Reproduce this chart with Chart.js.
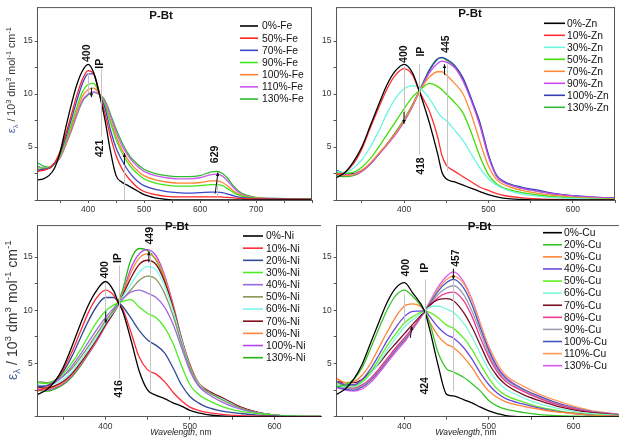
<!DOCTYPE html>
<html>
<head>
<meta charset="utf-8">
<script src="https://cdn.jsdelivr.net/npm/chart.js@4.4.1/dist/chart.umd.min.js"></script>
<style>
  html, body { margin: 0; padding: 0; background: #fff; }
  body { width: 619px; height: 443px; overflow: hidden; position: relative; }
  canvas { position: absolute; }
</style>
</head>
<body>
<canvas id="fe"></canvas>
<canvas id="zn"></canvas>
<canvas id="ni"></canvas>
<canvas id="cu"></canvas>
<script>
'use strict';

// ---- Fe titration ----
var feWl = [310, 320, 330, 340, 350, 360, 370, 380, 390, 400, 410, 421, 430, 440, 450, 460, 470, 480, 490, 500, 520, 540, 560, 580, 600, 620, 630, 640, 650, 660, 670, 680, 700, 740, 800];
var fe0   = [1.9, 2.0, 2.3, 3.0, 4.5, 6.8, 9.0, 10.9, 12.2, 12.8, 12.0, 9.8, 7.6, 4.6, 2.3, 1.7, 1.4, 1.1, 0.8, 0.5, 0.2, 0.05, 0, 0, 0, 0, 0, 0, 0, 0, 0, 0, 0, 0, 0];
var fe50  = [2.7, 2.8, 3.0, 3.5, 4.6, 6.2, 8.0, 9.9, 11.4, 12.2, 11.9, 9.9, 8.2, 6.0, 4.2, 3.0, 2.2, 1.6, 1.1, 0.8, 0.5, 0.35, 0.3, 0.3, 0.3, 0.3, 0.3, 0.28, 0.25, 0.2, 0.15, 0.12, 0.1, 0.08, 0.05];
var fe70  = [2.8, 2.9, 3.0, 3.4, 4.4, 5.9, 7.6, 9.4, 11.0, 11.9, 11.9, 9.9, 8.7, 6.6, 4.9, 3.8, 2.9, 2.2, 1.7, 1.35, 1.0, 0.8, 0.7, 0.65, 0.7, 0.75, 0.75, 0.7, 0.55, 0.4, 0.28, 0.2, 0.12, 0.1, 0.08];
var fe90  = [3.1, 3.0, 3.0, 3.4, 4.2, 5.6, 7.1, 8.8, 10.2, 10.9, 11.0, 9.9, 9.0, 7.3, 5.7, 4.5, 3.6, 2.9, 2.4, 2.0, 1.6, 1.4, 1.3, 1.3, 1.35, 1.45, 1.45, 1.35, 1.05, 0.7, 0.45, 0.3, 0.18, 0.12, 0.1];
var fe100 = [2.9, 2.9, 3.0, 3.4, 4.1, 5.4, 6.8, 8.4, 9.8, 10.4, 10.55, 9.9, 9.1, 7.5, 6.0, 4.8, 3.9, 3.2, 2.7, 2.3, 1.9, 1.7, 1.6, 1.6, 1.65, 1.8, 1.8, 1.65, 1.3, 0.85, 0.55, 0.35, 0.2, 0.12, 0.1];
var fe110 = [3.2, 3.0, 3.0, 3.4, 4.0, 5.2, 6.6, 8.1, 9.4, 10.0, 10.2, 9.9, 9.3, 7.9, 6.4, 5.2, 4.3, 3.6, 3.1, 2.7, 2.3, 2.1, 2.0, 2.0, 2.1, 2.4, 2.45, 2.25, 1.75, 1.15, 0.7, 0.42, 0.22, 0.13, 0.1];
var fe130 = [3.5, 3.2, 3.1, 3.5, 4.0, 5.2, 6.5, 8.0, 9.3, 9.9, 10.15, 9.95, 9.4, 8.1, 6.7, 5.5, 4.5, 3.8, 3.3, 2.9, 2.5, 2.3, 2.2, 2.2, 2.3, 2.65, 2.7, 2.5, 2.0, 1.3, 0.8, 0.5, 0.25, 0.15, 0.12];
var feLabels = ['0%-Fe', '50%-Fe', '70%-Fe', '90%-Fe', '100%-Fe', '110%-Fe', '130%-Fe'];

// ---- Zn titration ----
var znWl = [320, 330, 340, 350, 360, 370, 380, 390, 400, 410, 418, 425, 430, 440, 445, 450, 460, 470, 480, 490, 500, 510, 520, 540, 560, 580, 600, 625, 650];
var zn0   = [2.1, 2.6, 3.6, 5.0, 7.0, 9.0, 10.9, 12.2, 12.8, 12.0, 10.3, 8.6, 7.3, 4.3, 2.6, 2.0, 1.7, 1.4, 1.1, 0.8, 0.5, 0.3, 0.15, 0.05, 0, 0, 0, 0, 0];
var zn10  = [2.4, 2.6, 3.4, 4.8, 6.8, 8.7, 10.5, 11.8, 12.4, 11.8, 10.3, 9.2, 8.4, 5.9, 4.2, 3.3, 2.7, 2.2, 1.7, 1.2, 0.9, 0.6, 0.4, 0.2, 0.1, 0.05, 0.03, 0, 0];
var zn30  = [2.7, 2.6, 3.0, 3.8, 5.0, 6.5, 8.2, 9.6, 10.5, 10.8, 10.6, 10.1, 9.6, 8.3, 7.8, 7.5, 6.6, 5.6, 4.3, 3.0, 2.0, 1.4, 1.0, 0.55, 0.35, 0.22, 0.14, 0.08, 0.05];
var zn50  = [2.6, 2.5, 2.6, 3.1, 3.9, 5.0, 6.2, 7.4, 8.6, 9.7, 10.3, 10.8, 11.0, 10.7, 10.4, 10.0, 9.2, 8.2, 6.3, 4.1, 2.4, 1.5, 1.1, 0.7, 0.45, 0.3, 0.2, 0.12, 0.08];
var zn70  = [2.5, 2.3, 2.4, 2.8, 3.5, 4.4, 5.3, 6.3, 7.5, 8.9, 10.2, 11.1, 11.6, 12.1, 12.1, 11.8, 11.0, 10.0, 8.0, 5.5, 3.2, 1.9, 1.4, 0.9, 0.6, 0.4, 0.28, 0.18, 0.12];
var zn90  = [2.5, 2.4, 2.4, 2.7, 3.4, 4.3, 5.2, 6.2, 7.4, 8.8, 10.2, 11.3, 12.0, 12.9, 13.1, 13.0, 12.5, 11.2, 9.3, 7.0, 4.1, 2.2, 1.6, 1.1, 0.8, 0.55, 0.38, 0.25, 0.18];
var zn100 = [2.8, 2.5, 2.5, 2.8, 3.4, 4.3, 5.3, 6.3, 7.4, 8.9, 10.2, 11.4, 12.2, 13.3, 13.45, 13.3, 12.7, 11.5, 9.5, 7.3, 4.3, 2.3, 1.7, 1.2, 0.9, 0.6, 0.4, 0.28, 0.2];
var zn130 = [2.3, 2.2, 2.3, 2.7, 3.4, 4.3, 5.3, 6.4, 7.6, 9.0, 10.3, 11.5, 12.3, 13.35, 13.4, 13.2, 12.6, 11.4, 9.4, 7.1, 4.2, 2.2, 1.6, 1.1, 0.8, 0.55, 0.38, 0.25, 0.18];
var znLabels = ['0%-Zn', '10%-Zn', '30%-Zn', '50%-Zn', '70%-Zn', '90%-Zn', '100%-Zn', '130%-Zn'];

// ---- Ni titration ----
var niWl = [320, 330, 340, 350, 360, 370, 380, 390, 400, 410, 416, 420, 430, 440, 450, 460, 470, 480, 490, 500, 510, 520, 540, 560, 580, 600, 620, 655];
var ni0   = [2.1, 2.5, 3.3, 4.6, 6.5, 8.6, 10.5, 11.9, 12.7, 11.8, 10.6, 10.0, 7.3, 4.3, 2.5, 2.0, 1.7, 1.3, 1.0, 0.6, 0.35, 0.2, 0.05, 0, 0, 0, 0, 0];
var ni10  = [2.4, 2.7, 3.3, 4.4, 6.0, 7.9, 9.8, 11.2, 11.9, 11.4, 10.6, 10.2, 8.0, 5.6, 4.4, 4.0, 3.3, 2.3, 1.5, 0.9, 0.6, 0.4, 0.2, 0.1, 0.05, 0.02, 0, 0];
var ni20  = [2.8, 2.9, 3.3, 4.2, 5.6, 7.3, 9.0, 10.4, 11.2, 11.2, 10.7, 10.4, 9.3, 8.1, 7.2, 6.7, 6.0, 4.6, 3.0, 1.9, 1.3, 0.9, 0.5, 0.3, 0.15, 0.08, 0.03, 0];
var ni30  = [3.2, 3.1, 3.4, 4.0, 5.0, 6.2, 7.6, 8.9, 9.9, 10.5, 10.7, 10.8, 11.0, 10.3, 9.7, 9.3, 8.4, 6.9, 4.8, 3.0, 2.1, 1.6, 0.9, 0.5, 0.3, 0.15, 0.08, 0.02];
var ni40  = [2.9, 2.9, 3.2, 3.8, 4.7, 5.8, 7.0, 8.2, 9.3, 10.2, 10.6, 11.0, 11.7, 11.9, 11.6, 11.2, 10.3, 8.7, 6.5, 4.3, 2.9, 2.2, 1.3, 0.7, 0.35, 0.15, 0.07, 0.02];
var ni50  = [3.3, 3.2, 3.4, 3.8, 4.5, 5.5, 6.6, 7.8, 9.0, 10.0, 10.6, 11.0, 11.9, 12.8, 13.2, 12.9, 11.6, 9.5, 6.9, 4.6, 3.0, 2.4, 1.5, 0.8, 0.35, 0.15, 0.06, 0.02];
var ni60  = [3.0, 2.9, 3.1, 3.5, 4.2, 5.2, 6.3, 7.5, 8.8, 9.9, 10.6, 11.2, 12.4, 13.6, 14.1, 13.8, 12.3, 10.0, 7.2, 4.7, 3.1, 2.4, 1.6, 0.8, 0.35, 0.15, 0.06, 0.02];
var ni70  = [2.8, 2.7, 2.9, 3.3, 4.0, 5.0, 6.1, 7.3, 8.6, 9.8, 10.6, 11.3, 13.0, 14.3, 14.7, 14.3, 12.7, 10.3, 7.3, 4.8, 3.1, 2.5, 1.7, 0.9, 0.4, 0.15, 0.06, 0.02];
var ni80  = [2.7, 2.6, 2.8, 3.2, 3.9, 4.9, 6.0, 7.2, 8.6, 9.8, 10.6, 11.4, 13.5, 14.9, 15.3, 14.8, 13.1, 10.5, 7.4, 4.9, 3.2, 2.5, 1.7, 0.9, 0.4, 0.15, 0.06, 0.02];
var ni100 = [2.6, 2.5, 2.7, 3.1, 3.8, 4.8, 5.9, 7.1, 8.5, 9.8, 10.6, 11.4, 13.9, 15.3, 15.7, 15.1, 13.3, 10.6, 7.4, 4.9, 3.2, 2.5, 1.7, 0.9, 0.4, 0.15, 0.06, 0.02];
var ni130 = [2.5, 2.4, 2.6, 3.0, 3.7, 4.7, 5.9, 7.2, 8.7, 10.1, 11.0, 11.8, 14.7, 15.8, 15.6, 14.7, 12.9, 10.2, 7.1, 4.7, 3.1, 2.4, 1.6, 0.85, 0.4, 0.15, 0.06, 0.02];
var niLabels = ['0%-Ni', '10%-Ni', '20%-Ni', '30%-Ni', '40%-Ni', '50%-Ni', '60%-Ni', '70%-Ni', '80%-Ni', '100%-Ni', '130%-Ni'];

// ---- Cu titration ----
var cuWl = [320, 330, 340, 350, 360, 370, 380, 390, 400, 410, 424, 430, 440, 450, 458, 470, 480, 490, 500, 510, 520, 540, 560, 580, 600, 620, 655];
var cu0   = [2.1, 2.6, 3.5, 4.9, 6.9, 8.9, 10.8, 12.1, 12.6, 11.6, 9.9, 8.2, 4.8, 2.1, 1.95, 1.6, 1.3, 0.9, 0.55, 0.3, 0.1, 0, 0, 0, 0, 0, 0];
var cu20  = [2.8, 3.0, 3.5, 4.6, 6.4, 8.3, 10.1, 11.4, 11.9, 11.3, 9.9, 8.8, 6.0, 4.5, 4.2, 3.7, 3.1, 2.4, 1.5, 1.0, 0.7, 0.4, 0.2, 0.1, 0.05, 0.02, 0];
var cu30  = [3.6, 3.2, 3.3, 3.9, 5.0, 6.5, 8.0, 9.4, 10.4, 10.6, 9.95, 8.9, 7.6, 6.8, 6.5, 5.6, 4.6, 3.4, 2.4, 1.8, 1.4, 1.0, 0.7, 0.45, 0.3, 0.15, 0.05];
var cu40  = [3.3, 3.0, 3.0, 3.5, 4.5, 5.8, 7.2, 8.4, 9.4, 9.9, 9.95, 9.4, 8.4, 7.7, 7.4, 6.5, 5.4, 4.1, 3.0, 2.2, 1.7, 1.2, 0.8, 0.5, 0.3, 0.15, 0.05];
var cu50  = [3.2, 2.9, 2.9, 3.3, 4.2, 5.4, 6.7, 7.8, 8.8, 9.4, 9.9, 9.8, 9.3, 8.6, 8.3, 7.4, 6.3, 4.9, 3.6, 2.6, 2.0, 1.4, 0.9, 0.6, 0.35, 0.2, 0.06];
var cu60  = [3.0, 2.8, 2.8, 3.2, 4.0, 5.1, 6.3, 7.4, 8.4, 9.1, 9.95, 10.3, 10.4, 10.1, 9.8, 8.8, 7.5, 5.9, 4.4, 3.3, 2.6, 1.8, 1.2, 0.8, 0.5, 0.3, 0.1];
var cu70  = [3.3, 3.2, 3.2, 3.5, 4.2, 5.0, 6.0, 6.9, 7.8, 8.7, 9.9, 10.5, 11.0, 11.1, 10.9, 9.8, 8.4, 6.7, 5.0, 3.8, 3.0, 2.1, 1.5, 1.0, 0.65, 0.4, 0.15];
var cu80  = [3.0, 2.8, 2.7, 3.0, 3.6, 4.5, 5.5, 6.5, 7.4, 8.4, 9.9, 10.4, 11.2, 11.6, 11.7, 10.9, 9.4, 7.4, 5.6, 4.2, 3.3, 2.4, 1.7, 1.15, 0.75, 0.45, 0.15];
var cu90  = [2.9, 2.7, 2.6, 2.9, 3.5, 4.4, 5.4, 6.4, 7.3, 8.3, 9.9, 10.5, 11.5, 12.1, 12.3, 11.5, 9.9, 7.9, 5.9, 4.4, 3.5, 2.5, 1.8, 1.2, 0.8, 0.5, 0.17];
var cu100 = [2.8, 2.6, 2.5, 2.8, 3.4, 4.3, 5.3, 6.3, 7.2, 8.3, 9.9, 10.6, 11.8, 12.6, 12.9, 12.1, 10.5, 8.3, 6.2, 4.6, 3.6, 2.6, 1.9, 1.3, 0.85, 0.5, 0.18];
var cu110 = [3.6, 2.9, 2.6, 2.8, 3.4, 4.3, 5.3, 6.3, 7.2, 8.3, 9.9, 10.7, 12.0, 12.9, 13.2, 12.5, 10.9, 8.7, 6.6, 5.0, 3.9, 2.9, 2.1, 1.5, 1.0, 0.6, 0.22];
var cu130 = [2.7, 2.5, 2.4, 2.6, 3.2, 4.1, 5.1, 6.1, 7.0, 8.2, 9.9, 10.8, 12.2, 13.2, 13.6, 12.7, 11.0, 8.7, 6.4, 4.7, 3.7, 2.6, 1.9, 1.3, 0.85, 0.5, 0.18];
var cuLabels = ['0%-Cu', '20%-Cu', '30%-Cu', '40%-Cu', '50%-Cu', '60%-Cu', '70%-Cu', '80%-Cu', '90%-Cu', '100%-Cu', '110%-Cu', '130%-Cu'];

// marked wavelengths: [nm, epsilon, text]
var feMarks = [[398, 13.85, '400'], [421, 12.85, 'IP'], [421, 4.86, '421'], [627, 4.3, '629']];
var znMarks = [[400, 13.76, '400'], [420, 14.0, 'IP'], [420, 3.2, '418'], [450, 14.7, '445']];
var niMarks = [[400, 13.8, '400'], [415.5, 14.9, 'IP'], [416, 2.6, '416'], [453, 17.0, '449']];
var cuMarks = [[402, 14.0, '400'], [425, 14.0, 'IP'], [425, 2.9, '424'], [461, 14.9, '457']];

var FONT = '"Liberation Sans", Arial, sans-serif';
var AXIS = '#555';

function frameAndNotes(cfg) {
    return {
        id: 'frameAndNotes',
        afterDatasetsDraw: function(chart) {
            var ctx = chart.ctx, a = chart.chartArea;
            var xs = chart.scales.x, ys = chart.scales.y;
            var px = function(v) { return xs.getPixelForValue(v); };
            var py = function(v) { return ys.getPixelForValue(v); };
            ctx.save();

            // top / right frame
            ctx.strokeStyle = AXIS;
            ctx.lineWidth = 1;
            ctx.beginPath();
            ctx.moveTo(a.left, a.top + 0.5);
            ctx.lineTo(a.right, a.top + 0.5);
            if (cfg.rightBorder) {
                ctx.moveTo(a.right - 0.5, a.top);
                ctx.lineTo(a.right - 0.5, a.bottom);
            }
            ctx.stroke();

            // guide lines
            ctx.strokeStyle = '#c4c4c4';
            cfg.guides.forEach(function(g) {
                ctx.beginPath();
                ctx.moveTo(Math.round(px(g[0])) + 0.5, py(g[1]));
                ctx.lineTo(Math.round(px(g[0])) + 0.5, py(g[2]));
                ctx.stroke();
            });

            // arrows
            ctx.strokeStyle = '#111';
            ctx.fillStyle = '#111';
            cfg.arrows.forEach(function(r) {
                var x1 = px(r[0]), y1 = py(r[1]), x2 = px(r[2]), y2 = py(r[3]);
                var ang = Math.atan2(y2 - y1, x2 - x1);
                ctx.lineWidth = 1;
                ctx.beginPath();
                ctx.moveTo(x1, y1);
                ctx.lineTo(x2, y2);
                ctx.stroke();
                ctx.beginPath();
                ctx.moveTo(x2, y2);
                ctx.lineTo(x2 - 4 * Math.cos(ang - 0.45), y2 - 4 * Math.sin(ang - 0.45));
                ctx.lineTo(x2 - 4 * Math.cos(ang + 0.45), y2 - 4 * Math.sin(ang + 0.45));
                ctx.closePath();
                ctx.fill();
            });

            // rotated peak labels
            ctx.fillStyle = '#111';
            ctx.font = 'bold 10.5px ' + FONT;
            ctx.textAlign = 'center';
            ctx.textBaseline = 'middle';
            cfg.marks.forEach(function(m) {
                ctx.save();
                ctx.translate(px(m[0]), py(m[1]));
                ctx.rotate(-Math.PI / 2);
                ctx.fillText(m[2], 0, 0);
                ctx.restore();
            });

            // title
            ctx.font = 'bold 11.5px ' + FONT;
            ctx.fillText('P-Bt', cfg.title[0], cfg.title[1]);

            // legend
            var lg = cfg.legend;
            ctx.font = '10.3px ' + FONT;
            ctx.textAlign = 'left';
            chart.data.datasets.forEach(function(ds, i) {
                var y = lg.y0 + i * lg.dy;
                ctx.strokeStyle = ds.borderColor;
                ctx.lineWidth = 1.6;
                ctx.beginPath();
                ctx.moveTo(lg.x1, y);
                ctx.lineTo(lg.x2, y);
                ctx.stroke();
                ctx.fillStyle = '#111';
                ctx.fillText(ds.label, lg.tx, y + 0.5);
            });

            // y axis title
            if (cfg.yTitle) {
                var parts = [['\u03b5', 0, '#4a5c9c'], ['\u03bb', 1, '#4a5c9c'], [' / 10', 0], ['3', 2], [' dm', 0], ['3', 2],
                             [' mol', 0], ['-1', 2], [' cm', 0], ['-1', 2]];
                var base = 10, total = 0;
                var fontOf = function(p, s) { return (p[1] ? s * 0.7 : s) + 'px ' + FONT; };
                parts.forEach(function(p) { ctx.font = fontOf(p, base); total += ctx.measureText(p[0]).width; });
                var size = base * cfg.yTitle[2] / total;
                ctx.save();
                ctx.translate(cfg.yTitle[0], cfg.yTitle[1]);
                ctx.rotate(-Math.PI / 2);
                ctx.textBaseline = 'alphabetic';
                var x = -cfg.yTitle[2] / 2;
                parts.forEach(function(p) {
                    ctx.font = fontOf(p, size);
                    ctx.fillStyle = p[2] || '#333';
                    var dy = p[1] === 1 ? size * 0.25 : (p[1] === 2 ? -size * 0.4 : 0);
                    ctx.fillText(p[0], x, size * 0.35 + dy);
                    x += ctx.measureText(p[0]).width;
                });
                ctx.restore();
            }

            // x axis title
            if (cfg.xTitle) {
                ctx.textBaseline = 'middle';
                ctx.fillStyle = '#222';
                ctx.font = 'italic 8.5px ' + FONT;
                var w1 = ctx.measureText('Wavelength').width;
                ctx.font = '8.5px ' + FONT;
                var w2 = ctx.measureText(', nm').width;
                var sx = cfg.xTitle[0] - (w1 + w2) / 2;
                ctx.font = 'italic 8.5px ' + FONT;
                ctx.fillText('Wavelength', sx, cfg.xTitle[1]);
                ctx.font = '8.5px ' + FONT;
                ctx.fillText(', nm', sx + w1, cfg.xTitle[1]);
            }
            ctx.restore();
        }
    };
}

function createPanel(id, box, pad, wl, series, labels, colors, xr, ymax, cfg) {
    var canvas = document.getElementById(id);
    canvas.width = box[2];
    canvas.height = box[3];
    canvas.style.left = box[0] + 'px';
    canvas.style.top = box[1] + 'px';
    canvas.style.width = box[2] + 'px';
    canvas.style.height = box[3] + 'px';

    var tickFont = { family: FONT, size: 8.5 };
    new Chart(canvas.getContext('2d'), {
        type: 'line',
        data: {
            datasets: series.map(function(vals, i) {
                return {
                    label: labels[i],
                    data: wl.map(function(w, j) { return { x: w, y: vals[j] }; }),
                    borderColor: colors[i],
                    borderWidth: 1.3,
                    pointRadius: 0,
                    fill: false,
                    cubicInterpolationMode: 'monotone'
                };
            })
        },
        options: {
            responsive: false,
            animation: false,
            devicePixelRatio: 1,
            layout: { autoPadding: false, padding: { top: pad[0], right: pad[1], bottom: 0, left: 0 } },
            plugins: { legend: { display: false }, tooltip: { enabled: false } },
            scales: {
                x: {
                    type: 'linear', min: xr[0], max: xr[1],
                    afterFit: function(s) { s.height = pad[2]; },
                    afterBuildTicks: function(s) { s.ticks = s.ticks.filter(function(t) { return t.value % 50 === 0; }); },
                    ticks: {
                        stepSize: 50, autoSkip: false, maxRotation: 0, padding: 2, color: '#333', font: tickFont,
                        callback: function(v) { return (v % 100 === 0 && v < xr[1]) ? v : ''; }
                    },
                    grid: { drawOnChartArea: false, tickLength: 3, color: AXIS },
                    border: { color: AXIS, width: 1 }
                },
                y: {
                    min: 0, max: ymax,
                    afterFit: function(s) { s.width = pad[3]; },
                    afterBuildTicks: function(s) { s.ticks = s.ticks.filter(function(t) { return t.value % 2.5 === 0; }); },
                    ticks: {
                        stepSize: 2.5, autoSkip: false, padding: 2, color: '#333', font: tickFont,
                        callback: function(v) { return (v > 0 && v % 5 === 0) ? v : ''; }
                    },
                    grid: { drawOnChartArea: false, tickLength: 3, color: AXIS },
                    border: { color: AXIS, width: 1 }
                }
            }
        },
        plugins: [frameAndNotes(cfg)]
    });
}

createPanel('fe', [0, 0, 318, 218], [1.5, 6, 18, 37.7], feWl,
    [fe0, fe50, fe70, fe90, fe100, fe110, fe130], feLabels,
    ['#000000', '#ff2424', '#3a46cc', '#3ee61a', '#ff8232', '#cc5aee', '#2fb830'],
    [310, 800], 18.2, {
        rightBorder: true, title: [161, 15.7],
        legend: { x1: 240, x2: 258, tx: 262, y0: 26, dy: 12.17 },
        yTitle: [11.7, 80, 106], xTitle: null, marks: feMarks,
        guides: [[400, 12.0, 10.1], [423, 12.4, 6.0], [465, 4.1, 0], [630, 2.6, 0.3]],
        arrows: [[406, 10.6, 406, 9.7], [465, 3.3, 465, 4.4], [627, 0.6, 632, 2.6]]
    });

createPanel('zn', [313, 0, 306, 218], [1.5, 4, 18, 23.5], znWl,
    [zn0, zn10, zn30, zn50, zn70, zn90, zn100, zn130], znLabels,
    ['#000000', '#ff3030', '#6cf5e0', '#44dd08', '#ff8a3a', '#cc48ee', '#3340b8', '#33b833'],
    [320, 650], 18.2, {
        rightBorder: true, title: [157, 13.5],
        legend: { x1: 231, x2: 252, tx: 254, y0: 23.3, dy: 12 },
        yTitle: null, xTitle: null, marks: znMarks,
        guides: [[400, 12.6, 7.3], [418, 12.8, 4.3], [451, 12.8, 2.75]],
        arrows: [[400, 8.3, 400, 7.2], [448, 11.8, 448, 12.8]]
    });

createPanel('ni', [0, 218, 323, 225], [1, 2, 26.3, 37.7], niWl,
    [ni0, ni10, ni20, ni30, ni40, ni50, ni60, ni70, ni80, ni100, ni130], niLabels,
    ['#000000', '#ff2a3a', '#34489a', '#4cee22', '#9a6ae0', '#8a9458', '#7af8ee', '#84101e', '#ff8838', '#b844ee', '#22b812'],
    [320, 655], 18, {
        rightBorder: false, title: [176.7, 9],
        legend: { x1: 243, x2: 263, tx: 266, y0: 18, dy: 12.17 },
        yTitle: [12, 92, 140], xTitle: [181, 215], marks: niMarks,
        guides: [[400, 12.6, 8.8], [416, 14.2, 3.6], [453, 15.6, 2.4]],
        arrows: [[400.5, 9.9, 400.5, 8.8], [451.4, 14.5, 451.4, 15.5]]
    });

createPanel('cu', [313, 218, 310, 225], [1, 3, 26.3, 23.7], cuWl,
    [cu0, cu20, cu30, cu40, cu50, cu60, cu70, cu80, cu90, cu100, cu110, cu130], cuLabels,
    ['#000000', '#38c428', '#ff8436', '#6a48dc', '#5ef020', '#7cf8dc', '#7a1026', '#ee3a8e', '#9a9cb0', '#4456c0', '#ff9a5a', '#d858ee'],
    [320, 655], 18, {
        rightBorder: false, title: [166.6, 9.3],
        legend: { x1: 230, x2: 249, tx: 251, y0: 14.7, dy: 12.09 },
        yTitle: null, xTitle: [153, 215], marks: cuMarks,
        guides: [[400, 11.5, 8.8], [424, 12.9, 3.8], [457, 13.8, 2.4]],
        arrows: [[407, 7.4, 409, 8.5], [458, 13.9, 458, 12.9]]
    });
</script>
</body>
</html>
